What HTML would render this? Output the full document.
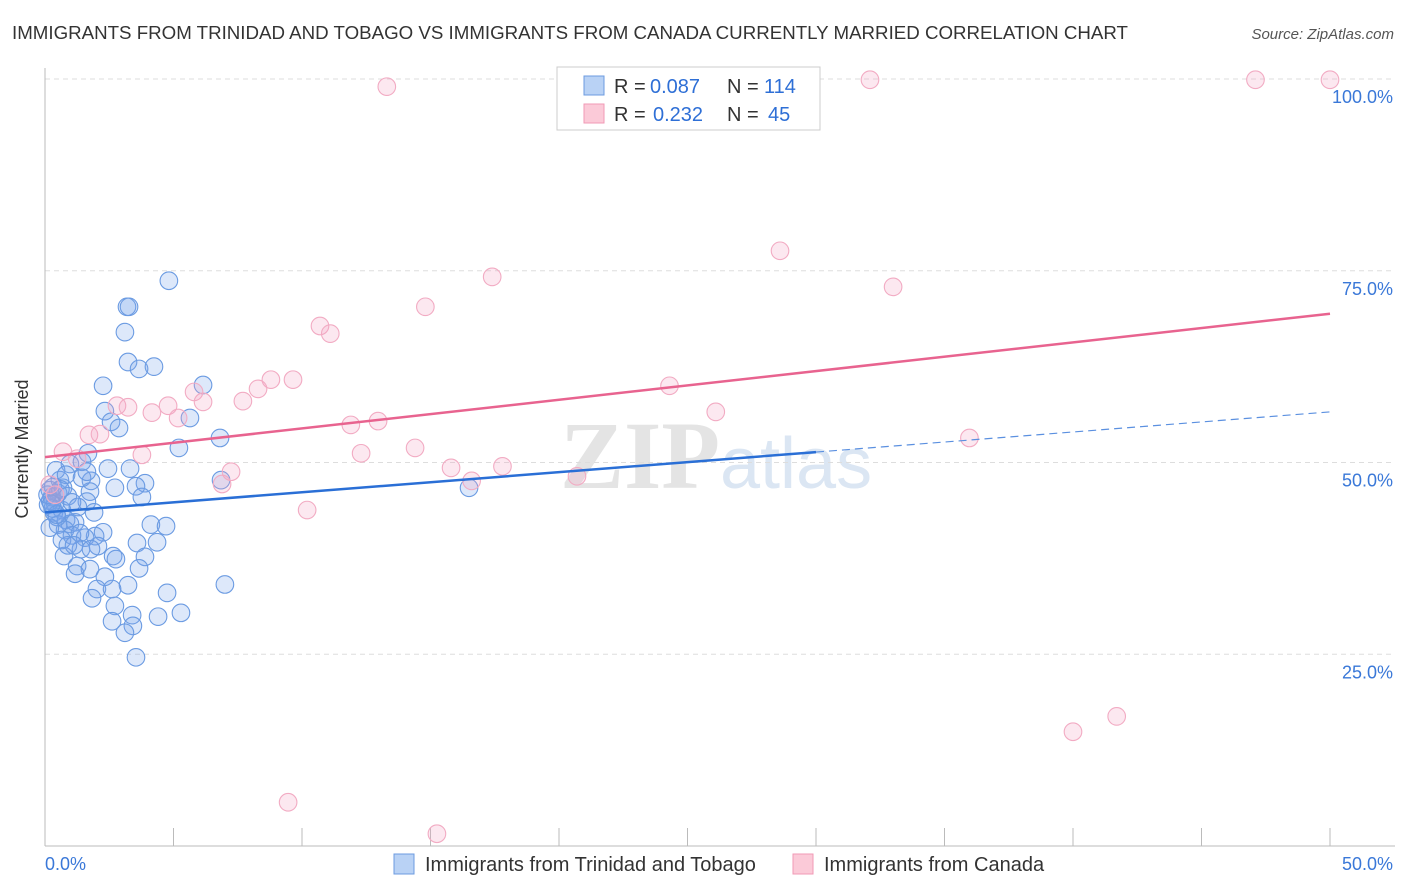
<!DOCTYPE html>
<html><head><meta charset="utf-8"><style>
body{margin:0;background:#fff;font-family:"Liberation Sans",sans-serif}
svg{display:block}
</style></head><body>
<svg id="chart" width="1406" height="892" xmlns="http://www.w3.org/2000/svg">
<text x="12" y="39" font-size="18" fill="#333" textLength="1116" lengthAdjust="spacingAndGlyphs">IMMIGRANTS FROM TRINIDAD AND TOBAGO VS IMMIGRANTS FROM CANADA CURRENTLY MARRIED CORRELATION CHART</text>
<text x="1394" y="39" font-size="15" fill="#555" text-anchor="end" font-style="italic">Source: ZipAtlas.com</text>
<text x="720" y="488" font-size="96" fill="#e4e4e4" text-anchor="end" font-family="Liberation Serif,serif" font-weight="bold">ZIP</text>
<text x="720" y="488" font-size="72" fill="#dbe6f3">atlas</text>
<g id="grid"></g><g id="axes"></g><g id="pts"></g><g id="lines"></g>
<text x="35" y="456" font-size="18" fill="#333" text-anchor="middle" transform="rotate(-90 28 456)">Currently Married</text>
<g>
<rect x="557" y="67" width="263" height="63" fill="#fff" stroke="#ccc"/>
<rect x="584" y="76" width="20" height="19" fill="#b9d2f5" stroke="#6c9be0"/>
<rect x="584" y="104" width="20" height="19" fill="#fbcad8" stroke="#f09ab6"/>
<text x="614" y="93" font-size="20" fill="#333">R =</text><text x="650" y="93" font-size="20" fill="#2e6fd6">0.087</text>
<text x="727" y="93" font-size="20" fill="#333">N =</text><text x="764" y="93" font-size="20" fill="#2e6fd6">114</text>
<text x="614" y="121" font-size="20" fill="#333">R =</text><text x="653" y="121" font-size="20" fill="#2e6fd6">0.232</text>
<text x="727" y="121" font-size="20" fill="#333">N =</text><text x="768" y="121" font-size="20" fill="#2e6fd6">45</text>
</g>
<g>
<rect x="394" y="854" width="20" height="20" fill="#b9d2f5" stroke="#6c9be0"/>
<text x="425" y="871" font-size="20" fill="#333">Immigrants from Trinidad and Tobago</text>
<rect x="793" y="854" width="20" height="20" fill="#fbcad8" stroke="#f09ab6"/>
<text x="824" y="871" font-size="20" fill="#333">Immigrants from Canada</text>
</g>
</svg>
<script>
const yTicks=[25,50,75,100];
const yTickLabels=["25.0%","50.0%","75.0%","100.0%"];
const xTicks=[0,5,10,15,20,25,30,35,40,45,50];
const blueX=[4.82,3.19,3.27,3.11,3.23,3.66,4.24,2.26,6.15,2.33,5.64,2.57,2.88,6.81,5.21,1.67,0.97,1.44,2.45,3.31,6.85,1.79,3.89,3.54,2.72,1.75,3.77,1.63,16.5,1.91,4.12,4.71,2.26,1.95,1.56,3.58,4.36,2.06,1.40,1.79,2.65,3.89,2.76,0.74,1.25,3.66,1.75,1.17,2.33,7.0,3.23,2.02,2.61,4.75,1.83,2.72,5.29,3.39,4.40,2.61,3.42,3.11,3.54,0.19,0.27,0.39,0.51,0.58,0.12,0.35,0.66,0.82,0.97,0.51,1.17,0.78,1.05,0.31,0.70,0.89,1.05,0.47,1.28,0.19,0.66,0.89,1.36,1.13,0.43,0.82,1.44,1.63,0.2,0.3,0.1,0.45,0.6,0.25];
const blueY=[73.7,70.3,70.3,67.0,63.1,62.2,62.5,60.0,60.1,56.7,55.8,55.3,54.5,53.2,51.9,51.2,49.8,50.1,49.2,49.2,47.7,47.6,47.3,46.9,46.7,46.2,45.5,44.9,46.7,43.5,41.9,41.7,40.9,40.4,40.2,39.5,39.6,39.1,38.7,38.7,37.8,37.7,37.4,37.8,36.5,36.2,36.1,35.5,35.1,34.1,34.0,33.5,33.5,33.0,32.3,31.3,30.4,30.1,29.9,29.3,28.7,27.8,24.6,46.4,45.5,44.7,46.0,47.7,44.5,43.5,43.8,42.5,42.0,41.9,42.2,41.2,40.5,46.8,46.7,45.6,44.8,42.9,44.2,41.5,39.9,39.2,40.8,39.2,49.0,48.4,48.0,48.8,45.0,44.0,45.8,43.2,46.5,44.6];
const pinkX=[13.3,32.1,47.1,50.0,28.6,17.4,33.0,14.8,10.7,11.1,9.65,8.79,8.29,7.70,5.80,6.15,2.80,3.23,4.16,4.79,5.18,12.96,11.9,24.3,26.1,35.97,1.71,2.14,0.70,1.25,3.77,12.3,14.4,7.24,6.89,15.8,16.6,17.8,20.7,10.2,40.0,41.7,9.46,15.25,0.19,0.39];
const pinkY=[99.0,99.9,99.9,99.9,77.6,74.2,72.9,70.3,67.8,66.8,60.8,60.8,59.6,58.0,59.2,57.9,57.4,57.2,56.5,57.4,55.8,55.4,54.9,60.0,56.6,53.2,53.6,53.7,51.4,50.5,51.0,51.2,51.9,48.8,47.2,49.3,47.6,49.5,48.2,43.8,14.9,16.9,5.7,1.6,47.1,45.8];
const blueTrend=[43.5,56.6], blueSolidEnd=30;
const pinkTrend=[50.7,69.4];
const sx=v=>45+v*25.7, sy=v=>846-v*7.67;
const NS="http://www.w3.org/2000/svg";
function mk(p,t,a){const e=document.createElementNS(NS,t);for(const k in a)e.setAttribute(k,a[k]);p.appendChild(e);return e;}
const grid=document.getElementById('grid'),axes=document.getElementById('axes'),pts=document.getElementById('pts'),lines=document.getElementById('lines');
yTicks.forEach((t,i)=>{
 const g=mk(grid,'line',{x1:45,x2:1395,y1:sy(t),y2:sy(t),stroke:'#ddd','stroke-dasharray':'5,4'});
 
 
 const l=mk(axes,'text',{x:1393,y:sy(t)+24,'font-size':18,fill:'#3a78d8','text-anchor':'end'});
 l.textContent=yTickLabels[i];
 
 
});
mk(axes,'line',{x1:45,x2:45,y1:68,y2:846,stroke:'#bbb'});
mk(axes,'line',{x1:45,x2:1395,y1:846,y2:846,stroke:'#bbb'});
xTicks.forEach(t=>{const tk=mk(axes,'line',{x1:sx(t),x2:sx(t),y1:828,y2:846,stroke:'#bbb'});
 
 });
const x0=mk(axes,'text',{x:45,y:870,'font-size':18,fill:'#3a78d8'});x0.textContent='0.0%';


const x1=mk(axes,'text',{x:1393,y:870,'font-size':18,fill:'#3a78d8','text-anchor':'end'});x1.textContent='50.0%';


blueX.forEach((x,i)=>{const c=mk(pts,'circle',{cx:sx(x),cy:sy(blueY[i]),r:8.8,fill:'rgba(120,165,235,0.25)',stroke:'#6b9be2','stroke-width':1.1});
 
 });
pinkX.forEach((x,i)=>{const c=mk(pts,'circle',{cx:sx(x),cy:sy(pinkY[i]),r:8.8,fill:'rgba(245,165,195,0.25)',stroke:'#f2abc3','stroke-width':1.1});
 
 });
const by=x=>blueTrend[0]+(blueTrend[1]-blueTrend[0])*x/50;
const bl=mk(lines,'line',{x1:sx(0),y1:sy(by(0)),x2:sx(blueSolidEnd),y2:sy(by(blueSolidEnd)),stroke:'#2a6fd6','stroke-width':2.5});


const bd=mk(lines,'line',{x1:sx(blueSolidEnd),y1:sy(by(blueSolidEnd)),x2:sx(50),y2:sy(by(50)),stroke:'#5b90e0','stroke-width':1.2,'stroke-dasharray':'8,5'});


const pl=mk(lines,'line',{x1:sx(0),y1:sy(pinkTrend[0]),x2:sx(50),y2:sy(pinkTrend[1]),stroke:'#e8638f','stroke-width':2.5});


</script>
</body></html>
